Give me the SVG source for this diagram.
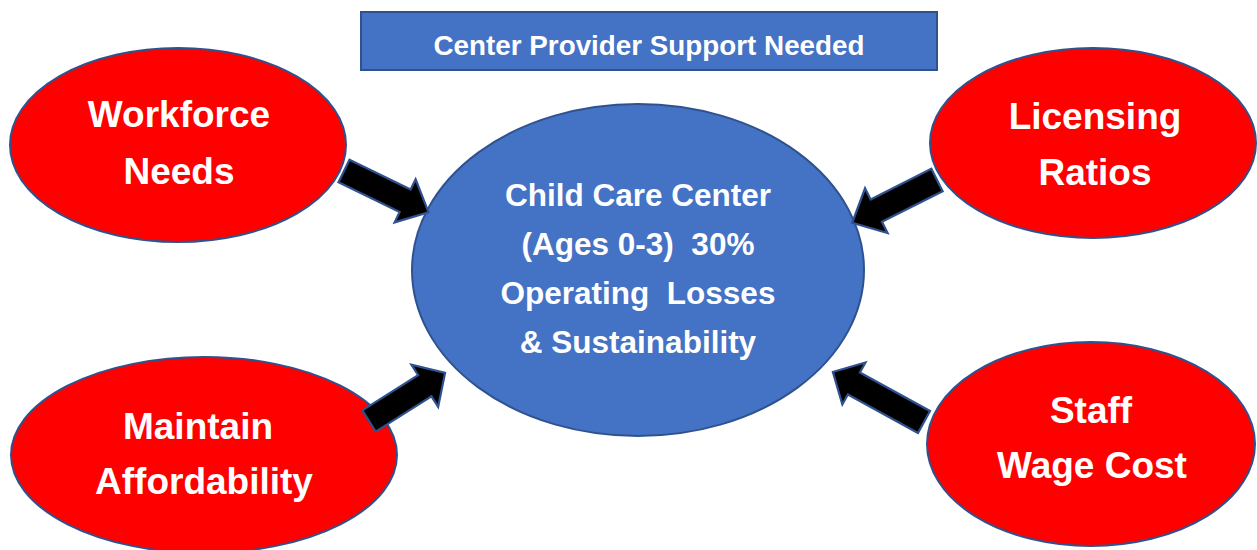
<svg xmlns="http://www.w3.org/2000/svg" width="1257" height="550" viewBox="0 0 1257 550">
<style>
.red{fill:#FF0000;stroke:#2F528F;stroke-width:2}
.blue{fill:#4472C4;stroke:#2F528F;stroke-width:2}
.arrow{fill:#000000;stroke:#2F528F;stroke-width:2.2;stroke-linejoin:miter}
text{font-family:"Liberation Sans",Arial,sans-serif;font-weight:bold;fill:#FFFFFF;text-anchor:middle;white-space:pre}
.big{font-size:37px}
.mid{font-size:31.5px}
.ttl{font-size:27.8px}
</style>
<rect width="1257" height="550" fill="#FFFFFF"/>
<g id="title">
<rect class="blue" x="361" y="12" width="576" height="58"/>
<text class="ttl" x="649" y="55">Center Provider Support Needed</text>
</g>
<g id="center">
<ellipse class="blue" cx="638" cy="270" rx="226" ry="166"/>
<text class="mid" x="638" y="206">Child Care Center</text>
<text class="mid" x="638" y="255" xml:space="preserve">(Ages 0-3)  30%</text>
<text class="mid" x="638" y="304" xml:space="preserve">Operating  Losses</text>
<text class="mid" x="638" y="353">&amp; Sustainability</text>
</g>
<g id="workforce">
<ellipse class="red" cx="178" cy="145" rx="168" ry="97"/>
<text class="big" x="179" y="127">Workforce</text>
<text class="big" x="179" y="184">Needs</text>
</g>
<g id="licensing">
<ellipse class="red" cx="1093" cy="143" rx="163" ry="95"/>
<text class="big" x="1095" y="129">Licensing</text>
<text class="big" x="1095" y="185">Ratios</text>
</g>
<g id="affordability">
<ellipse class="red" cx="204" cy="455" rx="193" ry="98"/>
<text class="big" x="198" y="439">Maintain</text>
<text class="big" x="204" y="494">Affordability</text>
</g>
<g id="staff">
<ellipse class="red" cx="1091" cy="444" rx="164" ry="102"/>
<text class="big" x="1091" y="423">Staff</text>
<text class="big" x="1092" y="478">Wage Cost</text>
</g>
<g id="connectors">
<polygon class="arrow" transform="translate(344,171) rotate(26)" points="0,-12.5 68,-12.5 68,-24 94,0 68,24 68,12.5 0,12.5"/>
<polygon class="arrow" transform="translate(937,180) rotate(153.2)" points="0,-12.5 68,-12.5 68,-25 95,0 68,25 68,12.5 0,12.5"/>
<polygon class="arrow" transform="translate(369,421) rotate(-32.3)" points="0,-12.5 66,-12.5 66,-25 90,0 66,25 66,12.5 0,12.5"/>
<polygon class="arrow" transform="translate(924,422) rotate(208.8)" points="0,-12.5 80,-12.5 80,-24 104,0 80,24 80,12.5 0,12.5"/>
</g>
</svg>
